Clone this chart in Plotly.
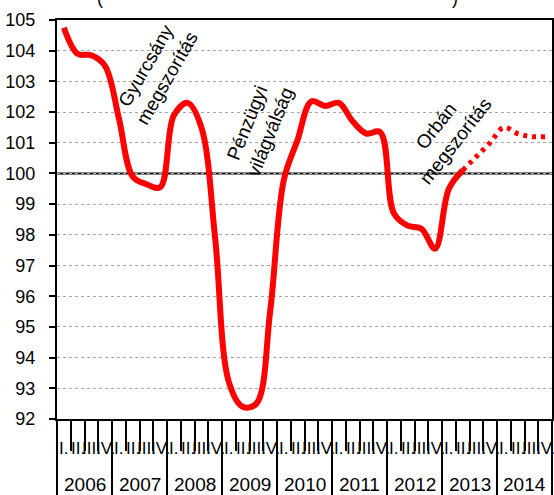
import plotly.graph_objects as go

# Quarterly index, 2006 Q1 .. 2014 Q4
years = [2006, 2007, 2008, 2009, 2010, 2011, 2012, 2013, 2014]
quarter_labels = ["I.", "II.", "III.", "IV."]

# Actual values: 2006 Q1 .. 2013 Q2
actual = [
    104.75, 103.9, 103.85, 103.5,   # 2006
    101.8, 99.9, 99.65, 99.55,      # 2007
    101.9, 102.3, 101.5, 97.9,      # 2008
    93.2, 92.4, 92.5, 95.5,         # 2009
    99.8, 101.1, 102.35, 102.2,     # 2010
    102.3, 101.7, 101.3, 101.35,    # 2011
    98.7, 98.3, 98.2, 97.55,        # 2012
    99.5, 100.1,                    # 2013
]
# Forecast: 2013 Q2 .. 2014 Q4
forecast = [100.1, 100.55, 101.0, 101.5, 101.3, 101.2, 101.2]

# Event labels: (text, quarter index, value, angle)
events = [
    ("Gyurcsány<br>megszorítás", 6.75, 103.3, -60),
    ("Pénzügyi<br>világválság", 14.2, 101.5, -68),
    ("Orbán<br>megszorítás", 27.75, 101.3, -52),
]

FONT = "Liberation Sans, Arial, sans-serif"
RED = "#FF0000"

n_q = len(years) * 4
x_actual = list(range(len(actual)))
x_fc = list(range(len(actual) - 1, len(actual) - 1 + len(forecast)))

fig = go.Figure()
fig.add_trace(go.Scatter(
    x=x_actual, y=actual, mode="lines",
    line=dict(color=RED, width=6, shape="spline", smoothing=1),
    hoverinfo="skip", showlegend=False,
))
fig.add_trace(go.Scatter(
    x=x_fc, y=forecast, mode="lines",
    line=dict(color=RED, width=5, shape="spline", smoothing=1, dash="4px,5px"),
    hoverinfo="skip", showlegend=False,
))

# Reference line at 100
fig.add_shape(type="line", xref="paper", x0=0, x1=1, yref="y", y0=100, y1=100,
              line=dict(color="black", width=2), layer="below")

annotations = []
# Quarter labels under each quarter
for i in range(n_q):
    annotations.append(dict(
        x=i, xref="x", y=-0.073, yref="paper", text=quarter_labels[i % 4],
        showarrow=False, xanchor="center", yanchor="middle",
        font=dict(family=FONT, size=17, color="black"),
    ))
# Year labels centred in each year
for k, yr in enumerate(years):
    annotations.append(dict(
        x=4 * k + 1.5, xref="x", y=-0.163, yref="paper", text=str(yr),
        showarrow=False, xanchor="center", yanchor="middle",
        font=dict(family=FONT, size=19, color="black"),
    ))
# Event labels
for text, xq, yv, ang in events:
    annotations.append(dict(
        x=xq, xref="x", y=yv, yref="y", text=text, textangle=ang,
        showarrow=False, xanchor="center", yanchor="middle", align="center",
        font=dict(family=FONT, size=19, color="black"),
    ))
# Title brackets at the very top
for xp, t in [(100, "("), (455, ")")]:
    annotations.append(dict(
        x=(xp - 57) / 495, xref="paper", y=1.055, yref="paper", text=t,
        showarrow=False, xanchor="center", yanchor="middle",
        font=dict(family=FONT, size=18, color="black"),
    ))

year_bounds = [4 * k - 0.5 for k in range(len(years) + 1)]
quarter_bounds = [q - 0.5 for q in range(n_q + 1)]

fig.update_layout(
    width=554, height=495,
    margin=dict(l=57, r=2, t=20, b=76),
    paper_bgcolor="white", plot_bgcolor="white",
    font=dict(family=FONT, size=18, color="black"),
    annotations=annotations,
    xaxis=dict(
        range=[-0.5, n_q - 0.5], showgrid=False, zeroline=False, automargin=False,
        showline=True, linecolor="black", linewidth=2, mirror=True,
        tickmode="array", tickvals=year_bounds, showticklabels=False,
        ticks="outside", ticklen=80, tickwidth=1.5, tickcolor="black",
        minor=dict(tickmode="array", tickvals=quarter_bounds, ticks="outside",
                   ticklen=30, tickwidth=1.5, tickcolor="black", showgrid=False),
    ),
    yaxis=dict(
        range=[92, 105], tickmode="linear", tick0=92, dtick=1, automargin=False,
        showgrid=True, gridcolor="#a8a8a8", gridwidth=1, griddash="dot",
        zeroline=False, showline=True, linecolor="black", linewidth=2, mirror=True,
        ticks="outside", ticklen=6, tickwidth=1.5, tickcolor="black",
        tickfont=dict(family=FONT, size=18, color="black"),
        ticklabelstandoff=10,
    ),
)

fig.write_html("out.html")
